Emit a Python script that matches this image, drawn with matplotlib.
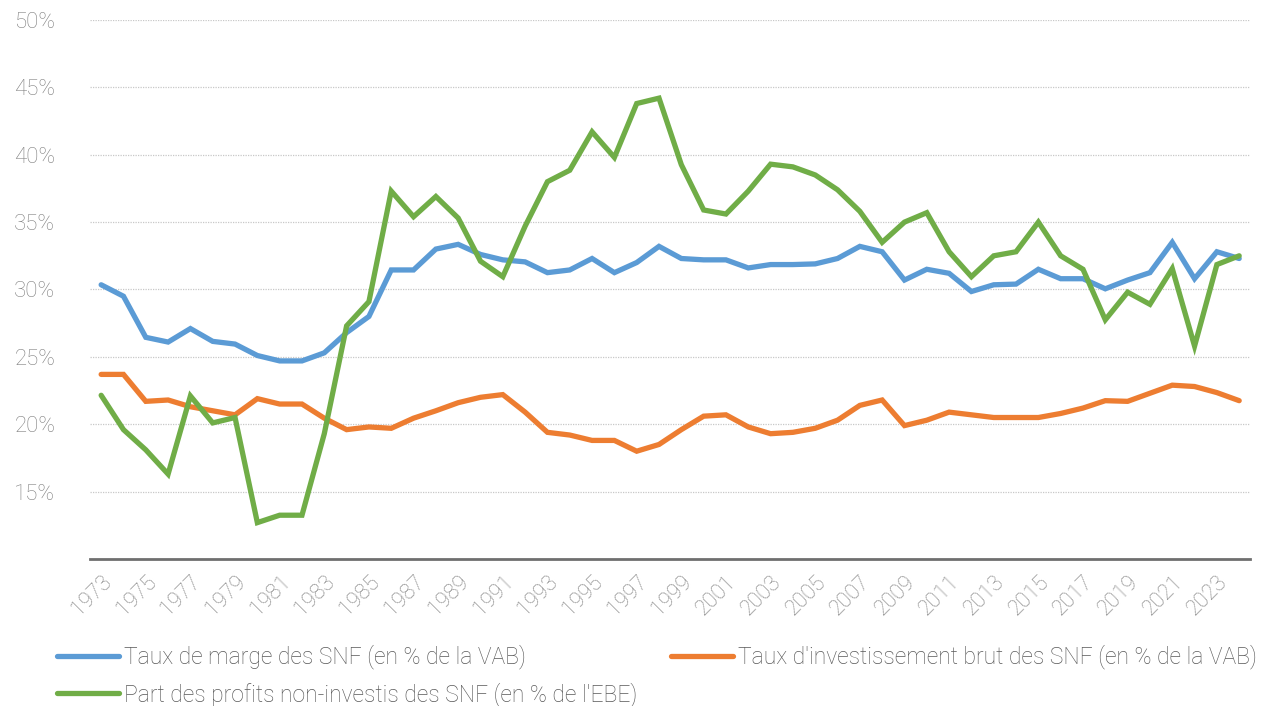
import numpy as np
import matplotlib
matplotlib.use("Agg")
import matplotlib.pyplot as plt

years = np.arange(1973, 2025)

taux_marge = [30.35, 29.5, 26.45, 26.1, 27.1, 26.15, 25.95, 25.1, 24.7, 24.7,
              25.3, 26.8, 28.0, 31.45, 31.45, 33.0, 33.35, 32.6, 32.2, 32.05,
              31.25, 31.45, 32.3, 31.25, 32.0, 33.2, 32.3, 32.2, 32.2, 31.6,
              31.85, 31.85, 31.9, 32.3, 33.2, 32.8, 30.7, 31.5, 31.2, 29.85,
              30.35, 30.4, 31.5, 30.8, 30.8, 30.05, 30.7, 31.25, 33.5, 30.8,
              32.8, 32.3]

taux_invest = [23.7, 23.7, 21.7, 21.8, 21.3, 21.0, 20.7, 21.9, 21.5, 21.5,
               20.45, 19.6, 19.8, 19.7, 20.45, 21.0, 21.6, 22.0, 22.2, 20.9,
               19.4, 19.2, 18.8, 18.8, 18.0, 18.5, 19.6, 20.6, 20.7, 19.8,
               19.3, 19.4, 19.7, 20.3, 21.4, 21.8, 19.9, 20.3, 20.9, 20.7,
               20.5, 20.5, 20.5, 20.8, 21.2, 21.75, 21.7, 22.3, 22.9, 22.8,
               22.35, 21.75]

part_profits = [22.15, 19.6, 18.1, 16.3, 22.1, 20.1, 20.5, 12.7, 13.25, 13.25,
                19.3, 27.3, 29.1, 37.3, 35.4, 36.9, 35.3, 32.1, 30.95, 34.7,
                38.0, 38.85, 41.7, 39.8, 43.8, 44.2, 39.26, 35.9, 35.6, 37.3,
                39.3, 39.1, 38.5, 37.4, 35.8, 33.5, 35.0, 35.7, 32.8, 30.95,
                32.5, 32.8, 35.0, 32.5, 31.5, 27.75, 29.8, 28.9, 31.55, 25.8,
                31.85, 32.5]

labels = ["Taux de marge des SNF (en % de la VAB)",
          "Taux d'investissement brut des SNF (en % de la VAB)",
          "Part des profits non-investis des SNF (en % de l'EBE)"]
colors = ["#5b9bd5", "#ed7d31", "#70ad47"]

plt.rcParams['font.family'] = ['Roboto', 'DejaVu Sans']

fig = plt.figure(figsize=(12.64, 7.06), dpi=100)
ax = fig.add_axes([0.0712, 0.2082, 0.918, 0.7635])

for vals, lab, col in zip([taux_marge, taux_invest, part_profits], labels, colors):
    ax.plot(years, vals, color=col, linewidth=3.8, label=lab,
            solid_joinstyle="miter", solid_capstyle="round")

ax.set_xlim(1972.5, 2024.5)
ax.set_ylim(10, 50)
yt = np.arange(15, 51, 5)
ax.set_yticks(yt)
ax.set_yticklabels([f"{v}%" for v in yt], fontsize=16, color="#808080", fontweight="light")
ax.yaxis.grid(True, linestyle=(0, (1, 1)), color="#c8c8c8", linewidth=0.9)
ax.set_axisbelow(True)

xt = years[::2]
ax.set_xticks(xt)
ax.set_xticklabels([str(y) for y in xt], rotation=45, ha="right", va="top",
                   rotation_mode="anchor", fontsize=15.5, color="#808080", fontweight="light")
ax.tick_params(axis="both", length=0)
ax.tick_params(axis="x", pad=9)
ax.tick_params(axis="y", pad=25)

for s in ["top", "right", "left"]:
    ax.spines[s].set_visible(False)
ax.spines["bottom"].set_color("#6f6f6f")
ax.spines["bottom"].set_linewidth(2)

handles, labs = ax.get_legend_handles_labels()
order = [0, 2, 1]
leg = fig.legend([handles[i] for i in order], [labs[i] for i in order],
                 loc="upper left", bbox_to_anchor=(0.038, 0.1), ncol=2,
                 frameon=False, handlelength=2.7, handletextpad=0.2,
                 columnspacing=1.5, labelspacing=0.55, borderaxespad=0,
                 prop={"size": 16.5, "weight": "light"})
for t in leg.get_texts():
    t.set_color("#595959")

fig.savefig("out.png", dpi=100)
